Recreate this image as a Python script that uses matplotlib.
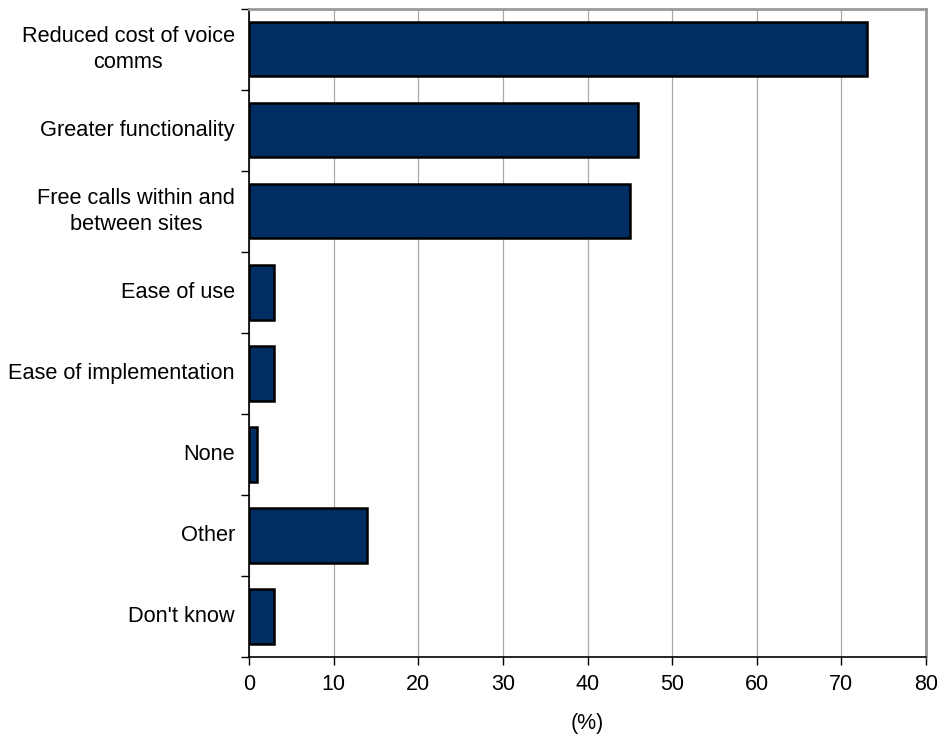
""" Benefits of IP telephony - horizontal bar chart """

import numpy as np
import matplotlib.pyplot as plt

plt.rcParams['font.family'] = ['Liberation Sans', 'DejaVu Sans']

# Survey answers, top to bottom
categories = ['Reduced cost of voice\ncomms', 'Greater functionality',
              'Free calls within and\nbetween sites', 'Ease of use',
              'Ease of implementation', 'None', 'Other', "Don't know"]
values = [73, 46, 45, 3, 3, 1, 14, 3]
x_ticks = [0, 10, 20, 30, 40, 50, 60, 70, 80]

fig = plt.figure(figsize=(9.41, 7.34), dpi=100)
ax = fig.add_axes([0.2646, 0.105, 0.7195, 0.883])

pos = np.arange(len(categories))
ax.barh(pos, values, height=0.67, color='#002D62', edgecolor='black',
        linewidth=1.8, zorder=3)

ax.set_xlim(0, 80)
ax.set_ylim(len(categories) - 0.5, -0.5)
ax.set_xticks(x_ticks)
ax.set_xticklabels([str(t) for t in x_ticks], fontsize=15.5)
ax.xaxis.grid(True, color='#aaaaaa', linewidth=0.9, zorder=0)

# category labels sit between the boundary ticks
ax.set_yticks(np.arange(len(categories) + 1) - 0.5)
ax.set_yticklabels([])
ax.tick_params(axis='y', length=6, width=1, color='black')
ax.tick_params(axis='x', length=6, width=1, color='black', pad=6)
for p, lab in zip(pos, categories):
    ax.annotate(lab, xy=(0, p), xycoords=('axes fraction', 'data'),
                xytext=(-14, 0), textcoords='offset pixels',
                ha='right', va='center', multialignment='center',
                linespacing=1.3, fontsize=15.7)

for side in ['top', 'right']:
    ax.spines[side].set_color('#999999')
    ax.spines[side].set_linewidth(2)
for side in ['left', 'bottom']:
    ax.spines[side].set_color('black')
    ax.spines[side].set_linewidth(1.2)

ax.set_xlabel('(%)', fontsize=15.5, labelpad=13)

fig.savefig('out.png', dpi=100)
